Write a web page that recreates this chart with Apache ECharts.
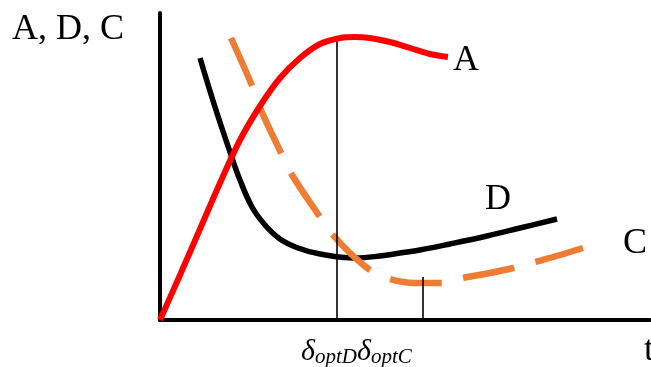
<!DOCTYPE html>
<html>
<head>
<meta charset="utf-8">
<script src="https://cdn.jsdelivr.net/npm/echarts@6/dist/echarts.min.js"></script>
<style>
  html, body { margin: 0; padding: 0; background: #fff; }
  #chart { width: 651px; height: 367px; }
</style>
</head>
<body>
<div id="chart"></div>
<script>
// Curve A (red): rises, peaks, then falls slightly
const curveA = [[0,0],[20,45],[40,91],[60,137],[80,180],[100,214],[120,242],[140,262],[160,276],[180,282],[195,283],[210,282],[230,278],[250,272],[270,266],[288,263]];
// Curve D (black): falls steeply to a minimum, then rises slowly
const curveD = [[40,262],[55,213],[70,168],[80,140],[92,113],[105,95],[120,81],[138,72],[160,66],[195,62],[220,64],[240,67],[260,70],[290,76],[327,84],[360,92],[397,101]];
// Curve C (orange, dashed)
const curveC = [[71,282],[93,232],[100,212],[122,165],[132,145],[160,103],[173,85],[190,67],[210,50],[230,41],[255,37],[282,37],[303,42],[330,47],[353,52],[375,58],[400,65],[423,72]];
// Optimum markers: [t, height of the guide line]
const optD = [176.5, 282];
const optC = [262.5, 43];

const xMax = 490, yMax = 307;
const serif = '"Liberation Serif", "Times New Roman", serif';

const chart = echarts.init(document.getElementById('chart'), null, { renderer: 'canvas' });

function guide(p) {
  return [{ coord: [p[0], 0] }, { coord: [p[0], p[1]] }];
}

chart.setOption({
  animation: false,
  backgroundColor: '#fff',
  grid: { left: 160, right: 1, top: 13, bottom: 47, containLabel: false },
  xAxis: {
    type: 'value', min: 0, max: xMax,
    axisLine: { show: true, onZero: false, lineStyle: { color: '#000', width: 4 } },
    axisTick: { show: false }, axisLabel: { show: false }, splitLine: { show: false }
  },
  yAxis: {
    type: 'value', min: 0, max: yMax,
    axisLine: { show: true, onZero: false, lineStyle: { color: '#000', width: 4 } },
    axisTick: { show: false }, axisLabel: { show: false }, splitLine: { show: false }
  },
  series: [
    {
      name: 'D', type: 'line', data: curveD, smooth: 0.4, showSymbol: false, z: 3,
      lineStyle: { color: '#000', width: 5.5 },
      markLine: {
        silent: true, symbol: 'none', label: { show: false },
        lineStyle: { color: '#000', width: 1.6, type: 'solid' },
        data: [guide(optD), guide(optC)]
      }
    },
    {
      name: 'C', type: 'line', data: curveC, smooth: 0.35, showSymbol: false, z: 4,
      lineStyle: { color: '#EE7D33', width: 6.5, type: [52, 22], cap: 'butt' }
    },
    {
      name: 'A', type: 'line', data: curveA, smooth: 0.35, showSymbol: false, z: 5,
      lineStyle: { color: '#FF0000', width: 6 }
    }
  ],
  graphic: [
    { type: 'text', left: 12, top: 12, style: { text: 'A, D, C', font: '36px ' + serif, fill: '#000' } },
    { type: 'text', left: 453, top: 43, style: { text: 'A', font: '36px ' + serif, fill: '#000' } },
    { type: 'text', left: 485, top: 182, style: { text: 'D', font: '36px ' + serif, fill: '#000' } },
    { type: 'text', left: 623, top: 226, style: { text: 'C', font: '36px ' + serif, fill: '#000' } },
    { type: 'text', left: 644, top: 333, style: { text: 't', font: '36px ' + serif, fill: '#000' } },
    {
      type: 'text', left: 301, top: 337,
      style: {
        text: '{d|δ}{s|optD}{d|δ}{s|optC}',
        rich: {
          d: { font: 'italic 30px ' + serif, fill: '#000' },
          s: { font: 'italic 21px ' + serif, fill: '#000', padding: [10, 0, 0, 0] }
        }
      }
    }
  ]
});
</script>
</body>
</html>
